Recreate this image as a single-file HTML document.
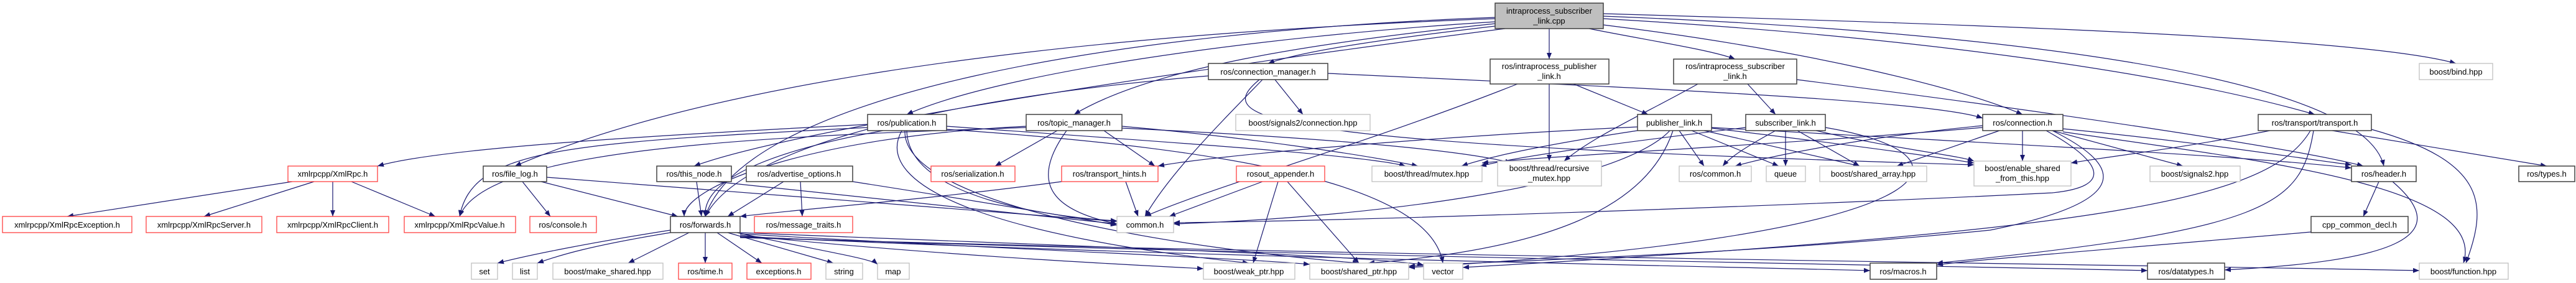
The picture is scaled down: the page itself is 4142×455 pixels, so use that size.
<!DOCTYPE html>
<html><head><meta charset="utf-8"><style>
html,body{margin:0;padding:0;background:#fff;width:4142px;height:455px;overflow:hidden}
svg text{font-family:"Liberation Sans",sans-serif;font-size:13px;text-anchor:middle;fill:#000}
.e{fill:none;stroke:#191970;stroke-width:1.2}
.k{fill:#fff;stroke:#404040;stroke-width:1.5}
.r{fill:#fff;stroke:#ff4040;stroke-width:1.3}
.g{fill:#fff;stroke:#bfbfbf;stroke-width:1.3}
</style></head><body>
<svg width="4142" height="455" viewBox="0 0 4142 455" xmlns="http://www.w3.org/2000/svg">
<defs><marker id="a" markerWidth="10" markerHeight="8" refX="10" refY="4" orient="auto" markerUnits="userSpaceOnUse"><path d="M0,0 L10,4 L0,8z" fill="#191970"/></marker></defs>
<g class="e" marker-end="url(#a)">
<!-- root -->
<path d="M2404,30 C1600,60 1100,150 828,267"/>
<path d="M2420,46 C2000,100 1300,200 1116,267"/>
<path d="M2404,35 C2000,60 1600,120 1458,184"/>
<path d="M2404,38 C2100,70 1850,110 1727,184"/>
<path d="M2404,42 C2250,60 2100,80 2039,102"/>
<path d="M2491,46 L2491,95"/>
<path d="M2555,46 C2650,65 2750,80 2790,95"/>
<path d="M2578,40 C2900,80 3150,140 3252,184"/>
<path d="M2578,30 C3100,60 3500,120 3722,184"/>
<path d="M2578,26 C3200,50 3800,120 3833,267"/>
<path d="M2578,22 C3200,40 3800,60 3949,102"/>
<path d="M2404,28 C1800,50 1200,150 1134,348"/>
<!-- connection_manager -->
<path d="M2030,128 C1960,200 1880,280 1841,348"/>
<path d="M2050,128 L2095,184"/>
<path d="M1943,122 C1600,150 1200,220 1134,348"/>
<path d="M2135,118 C2600,140 3100,160 3188,190"/>
<path d="M2025,128 C1950,190 2000,230 3174,265"/>
<!-- intraprocess publisher link -->
<path d="M2530,135 L2650,184"/>
<path d="M2491,135 L2491,259"/>
<path d="M2440,135 C2200,230 1950,300 1841,348"/>
<!-- intraprocess subscriber link -->
<path d="M2810,135 L2855,184"/>
<path d="M2730,135 C2650,180 2560,220 2515,259"/>
<path d="M2889,128 C3300,180 3700,240 3800,267"/>
<!-- publication -->
<path d="M1395,200 C1000,220 700,240 607,267"/>
<path d="M1395,205 C900,230 760,240 739,348"/>
<path d="M1420,210 C1200,250 1130,300 1134,348"/>
<path d="M1458,210 C1460,320 1700,350 1796,355"/>
<path d="M1522,203 C1900,230 2200,250 2260,267"/>
<path d="M1450,210 C1400,300 1600,380 2008,423"/>
<path d="M1455,210 C1450,330 1900,400 2185,423"/>
<path d="M1522,208 C2000,240 2300,300 2320,423"/>
<!-- topic manager -->
<path d="M1700,210 L1600,267"/>
<path d="M1715,210 C1650,300 1700,340 1796,360"/>
<path d="M1775,210 L1857,267"/>
<path d="M1804,203 C2000,220 2200,250 2280,267"/>
<path d="M1804,206 C2100,220 2350,240 2430,262"/>
<path d="M1650,203 C1300,220 1100,300 1100,348"/>
<path d="M1650,205 C1200,220 780,240 739,348"/>
<!-- xmlrpc -->
<path d="M470,292 L108,348"/>
<path d="M505,292 L328,348"/>
<path d="M535,292 L535,348"/>
<path d="M565,292 L700,348"/>
<!-- file_log -->
<path d="M840,292 L885,348"/>
<path d="M870,292 L1090,348"/>
<path d="M879,285 C1300,320 1600,340 1796,356"/>
<!-- this_node -->
<path d="M1120,292 L1128,348"/>
<path d="M1150,292 C1400,320 1650,345 1796,360"/>
<!-- advertise_options -->
<path d="M1260,292 L1170,348"/>
<path d="M1287,292 L1290,348"/>
<path d="M1371,292 C1550,320 1700,345 1796,362"/>
<!-- transport hints -->
<path d="M1810,292 L1830,348"/>
<path d="M1707,292 C1500,320 1300,335 1190,348"/>
<!-- rosout -->
<path d="M2030,292 L1880,348"/>
<path d="M2055,292 L2015,423"/>
<path d="M2070,292 L2185,423"/>
<!-- publisher link -->
<path d="M2700,210 L2740,267"/>
<path d="M2720,210 L2860,267"/>
<path d="M2740,210 L2990,267"/>
<path d="M2752,206 C2950,230 3100,250 3174,262"/>
<path d="M2633,210 C2500,230 2400,250 2350,267"/>
<path d="M2633,204 C2300,220 1950,250 1862,267"/>
<path d="M2685,210 C2600,300 2200,350 1887,360"/>
<path d="M2690,210 C2650,330 2500,400 2200,423"/>
<path d="M2752,205 C3200,230 3600,250 3781,270"/>
<!-- subscriber link -->
<path d="M2855,210 C2800,240 2780,255 2770,267"/>
<path d="M2871,210 L2871,267"/>
<path d="M2890,210 L2990,267"/>
<path d="M2920,210 C3050,240 3150,250 3174,259"/>
<path d="M2807,205 C2600,230 2450,250 2380,267"/>
<path d="M2935,205 C3200,250 3150,380 2265,430"/>
<!-- connection -->
<path d="M3252,210 L3252,259"/>
<path d="M3215,210 L3050,267"/>
<path d="M3300,210 L3510,267"/>
<path d="M3317,207 C3550,230 3700,255 3781,265"/>
<path d="M3188,205 C2900,230 2500,250 2383,262"/>
<path d="M3188,202 C3000,220 2850,250 2790,267"/>
<path d="M3290,210 C3380,260 3400,300 3300,310 C2900,330 2200,355 1887,358"/>
<path d="M3317,212 C3650,260 4000,300 3961,423"/>
<path d="M3300,210 C3400,260 3450,320 3200,370 C2800,410 2400,420 2265,428"/>
<!-- transport -->
<path d="M3750,210 L4095,267"/>
<path d="M3813,208 C4000,260 4000,330 3965,423"/>
<path d="M3720,210 C3700,330 3650,370 3114,423"/>
<path d="M3650,210 C3500,240 3400,250 3330,262"/>
<path d="M3715,210 C3650,320 3400,370 2352,430"/>
<!-- header -->
<path d="M3825,292 L3800,348"/>
<path d="M3847,292 C3950,380 3850,420 3577,434"/>
<!-- cpp_common_decl -->
<path d="M3716,373 C3400,400 3150,420 3114,426"/>
<!-- forwards -->
<path d="M1078,370 C950,390 850,410 800,423"/>
<path d="M1078,374 C950,395 900,410 864,423"/>
<path d="M1108,374 L1010,423"/>
<path d="M1134,374 L1134,423"/>
<path d="M1153,374 L1225,423"/>
<path d="M1170,374 L1340,423"/>
<path d="M1185,374 C1300,400 1400,415 1411,425"/>
<path d="M1190,378 C1500,410 1800,425 1935,432"/>
<path d="M1190,376 C1600,400 2000,415 2106,425"/>
<path d="M1190,374 C1700,395 2200,410 2289,426"/>
<path d="M1190,380 C1800,410 2600,425 3007,435"/>
<path d="M1190,381 C2000,410 3000,425 3453,435"/>
<path d="M1190,382 C2200,412 3400,425 3890,435"/>
</g>
<!-- nodes -->
<rect class="k" x="2404" y="5" width="174" height="41" style="fill:#bfbfbf"/><text x="2491" y="22">intraprocess_subscriber</text><text x="2491" y="38">_link.cpp</text>
<rect class="k" x="1943" y="102" width="192" height="26"/><text x="2039" y="120">ros/connection_manager.h</text>
<rect class="k" x="2396" y="95" width="191" height="40"/><text x="2491" y="111">ros/intraprocess_publisher</text><text x="2491" y="127">_link.h</text>
<rect class="k" x="2691" y="95" width="198" height="40"/><text x="2790" y="111">ros/intraprocess_subscriber</text><text x="2790" y="127">_link.h</text>
<rect class="g" x="3890" y="102" width="118" height="26"/><text x="3949" y="120">boost/bind.hpp</text>
<rect class="k" x="1395" y="184" width="127" height="26"/><text x="1458" y="202">ros/publication.h</text>
<rect class="k" x="1650" y="184" width="154" height="26"/><text x="1727" y="202">ros/topic_manager.h</text>
<rect class="g" x="1987" y="184" width="216" height="26"/><text x="2095" y="202">boost/signals2/connection.hpp</text>
<rect class="k" x="2633" y="184" width="119" height="26"/><text x="2692" y="202">publisher_link.h</text>
<rect class="k" x="2807" y="184" width="128" height="26"/><text x="2871" y="202">subscriber_link.h</text>
<rect class="k" x="3188" y="184" width="129" height="26"/><text x="3252" y="202">ros/connection.h</text>
<rect class="k" x="3631" y="184" width="182" height="26"/><text x="3722" y="202">ros/transport/transport.h</text>
<rect class="r" x="463" y="267" width="144" height="25"/><text x="535" y="284">xmlrpcpp/XmlRpc.h</text>
<rect class="k" x="777" y="267" width="102" height="25"/><text x="828" y="284">ros/file_log.h</text>
<rect class="k" x="1056" y="267" width="120" height="25"/><text x="1116" y="284">ros/this_node.h</text>
<rect class="k" x="1200" y="267" width="171" height="25"/><text x="1285" y="284">ros/advertise_options.h</text>
<rect class="r" x="1497" y="267" width="135" height="25"/><text x="1564" y="284">ros/serialization.h</text>
<rect class="r" x="1707" y="267" width="155" height="25"/><text x="1784" y="284">ros/transport_hints.h</text>
<rect class="r" x="1988" y="267" width="142" height="25"/><text x="2059" y="284">rosout_appender.h</text>
<rect class="g" x="2206" y="267" width="177" height="25"/><text x="2294" y="284">boost/thread/mutex.hpp</text>
<rect class="g" x="2408" y="259" width="167" height="40"/><text x="2491" y="275">boost/thread/recursive</text><text x="2491" y="291">_mutex.hpp</text>
<rect class="g" x="2700" y="267" width="116" height="25"/><text x="2758" y="284">ros/common.h</text>
<rect class="g" x="2840" y="267" width="63" height="25"/><text x="2871" y="284">queue</text>
<rect class="g" x="2926" y="267" width="172" height="25"/><text x="3012" y="284">boost/shared_array.hpp</text>
<rect class="g" x="3174" y="259" width="156" height="40"/><text x="3252" y="275">boost/enable_shared</text><text x="3252" y="291">_from_this.hpp</text>
<rect class="g" x="3457" y="267" width="145" height="25"/><text x="3529" y="284">boost/signals2.hpp</text>
<rect class="k" x="3781" y="267" width="104" height="25"/><text x="3833" y="284">ros/header.h</text>
<rect class="k" x="4050" y="267" width="90" height="25"/><text x="4095" y="284">ros/types.h</text>
<rect class="r" x="4" y="348" width="208" height="26"/><text x="108" y="366">xmlrpcpp/XmlRpcException.h</text>
<rect class="r" x="235" y="348" width="186" height="26"/><text x="328" y="366">xmlrpcpp/XmlRpcServer.h</text>
<rect class="r" x="445" y="348" width="180" height="26"/><text x="535" y="366">xmlrpcpp/XmlRpcClient.h</text>
<rect class="r" x="650" y="348" width="179" height="26"/><text x="739" y="366">xmlrpcpp/XmlRpcValue.h</text>
<rect class="r" x="852" y="348" width="107" height="26"/><text x="905" y="366">ros/console.h</text>
<rect class="k" x="1078" y="348" width="112" height="26"/><text x="1134" y="366">ros/forwards.h</text>
<rect class="r" x="1213" y="348" width="158" height="26"/><text x="1292" y="366">ros/message_traits.h</text>
<rect class="g" x="1796" y="348" width="91" height="26"/><text x="1841" y="366">common.h</text>
<rect class="k" x="3716" y="348" width="156" height="26"/><text x="3794" y="366">cpp_common_decl.h</text>
<rect class="g" x="758" y="423" width="42" height="26"/><text x="779" y="441">set</text>
<rect class="g" x="824" y="423" width="40" height="26"/><text x="844" y="441">list</text>
<rect class="g" x="889" y="423" width="177" height="26"/><text x="977" y="441">boost/make_shared.hpp</text>
<rect class="r" x="1091" y="423" width="86" height="26"/><text x="1134" y="441">ros/time.h</text>
<rect class="r" x="1201" y="423" width="103" height="26"/><text x="1252" y="441">exceptions.h</text>
<rect class="g" x="1328" y="423" width="59" height="26"/><text x="1357" y="441">string</text>
<rect class="g" x="1411" y="423" width="51" height="26"/><text x="1436" y="441">map</text>
<rect class="g" x="1935" y="423" width="147" height="26"/><text x="2008" y="441">boost/weak_ptr.hpp</text>
<rect class="g" x="2106" y="423" width="159" height="26"/><text x="2185" y="441">boost/shared_ptr.hpp</text>
<rect class="g" x="2289" y="423" width="63" height="26"/><text x="2320" y="441">vector</text>
<rect class="k" x="3007" y="423" width="107" height="26"/><text x="3060" y="441">ros/macros.h</text>
<rect class="k" x="3453" y="423" width="124" height="26"/><text x="3515" y="441">ros/datatypes.h</text>
<rect class="g" x="3890" y="423" width="143" height="26"/><text x="3961" y="441">boost/function.hpp</text>
</svg>
</body></html>
